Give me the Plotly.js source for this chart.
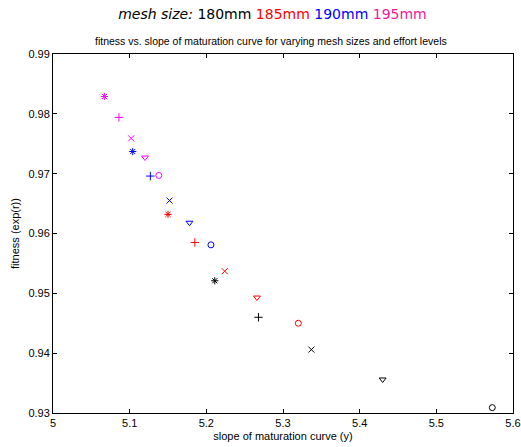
<!DOCTYPE html>
<html><head><meta charset="utf-8">
<script src="https://cdn.plot.ly/plotly-3.0.1.min.js"></script>
<style>body{margin:0;background:#fff}#c{width:521px;height:447px}</style>
</head><body><div id="c"></div>
<script>
// Series: mesh sizes, each with 5 effort levels (markers: * + x v o)
const meshSizes = ['180mm', '185mm', '190mm', '195mm'];
const markerColors = ['#000000', '#ff0000', '#0000ff', '#ff00ff'];
const titleColors = ['#000000', '#ff0000', '#0000ff', '#f0189c'];
const effortSymbols = ['asterisk-open', 'cross-thin-open', 'x-thin-open', 'triangle-down-open', 'circle-open'];

const slope180 = [5.211, 5.268, 5.337, 5.430, 5.573];
const fit180   = [0.9521, 0.9460, 0.9406, 0.9356, 0.9309];
const slope185 = [5.150, 5.185, 5.224, 5.266, 5.320];
const fit185   = [0.9632, 0.9585, 0.9537, 0.9493, 0.9450];
const slope190 = [5.104, 5.127, 5.152, 5.178, 5.206];
const fit190   = [0.9737, 0.9696, 0.9655, 0.9618, 0.9581];
const slope195 = [5.067, 5.086, 5.102, 5.120, 5.138];
const fit195   = [0.9829, 0.9794, 0.9759, 0.9727, 0.9697];

const xs = [slope180, slope185, slope190, slope195];
const ys = [fit180, fit185, fit190, fit195];

const traces = [];
for (let i = 0; i < meshSizes.length; i++) {
  traces.push({
    x: xs[i], y: ys[i], type: 'scatter', mode: 'markers', name: meshSizes[i],
    marker: {symbol: effortSymbols, size: 6, color: markerColors[i], line: {width: 1, color: markerColors[i]}}
  });
}

const titleText = '<i>mesh size:</i> ' + meshSizes.map((m, i) => '<span style="color:' + titleColors[i] + '">' + m + '</span>').join(' ');

const axisCommon = {
  showgrid: false, zeroline: false, showline: true, linecolor: '#000', linewidth: 1,
  mirror: 'ticks', ticks: 'inside', ticklen: 4, tickcolor: '#000',
  tickfont: {family: 'Liberation Sans, Arial, sans-serif', size: 11, color: '#000'}
};

const layout = {
  width: 521, height: 447,
  margin: {l: 53, r: 8, t: 54, b: 34},
  paper_bgcolor: '#fff', plot_bgcolor: '#fff',
  showlegend: false,
  font: {family: 'Liberation Sans, Arial, sans-serif', color: '#000'},
  title: {text: titleText, x: 0.523, xanchor: 'center', y: 0.968, yanchor: 'middle',
          font: {family: 'DejaVu Sans, sans-serif', size: 14, color: '#000'}},
  xaxis: Object.assign({}, axisCommon, {
    range: [5, 5.6], tickvals: [5, 5.1, 5.2, 5.3, 5.4, 5.5, 5.6],
    ticktext: ['5', '5.1', '5.2', '5.3', '5.4', '5.5', '5.6'],
    title: {text: 'slope of maturation curve (y)', standoff: 4, font: {size: 11}}
  }),
  yaxis: Object.assign({}, axisCommon, {
    range: [0.93, 0.99], tickvals: [0.93, 0.94, 0.95, 0.96, 0.97, 0.98, 0.99],
    ticktext: ['0.93', '0.94', '0.95', '0.96', '0.97', '0.98', '0.99'],
    title: {text: 'fitness (exp(r))', standoff: 6, font: {size: 11}}
  }),
  annotations: [{
    text: 'fitness vs. slope of maturation curve for varying mesh sizes and effort levels',
    xref: 'paper', yref: 'paper', x: 0.474, y: 1, xanchor: 'center', yanchor: 'bottom', yshift: 5,
    showarrow: false, font: {size: 10.5, color: '#000'}
  }]
};

Plotly.newPlot('c', traces, layout, {displayModeBar: false, staticPlot: true});
</script>
</body></html>
